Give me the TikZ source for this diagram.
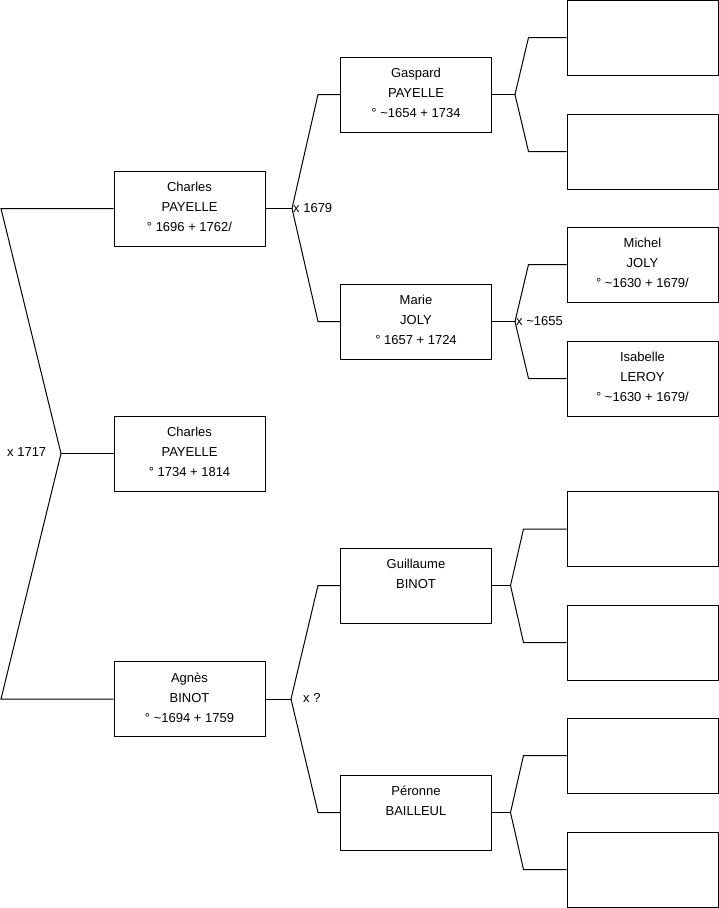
\documentclass[tikz,border=0pt]{standalone}
\usepackage{fontspec}
\setmainfont{Liberation Sans}
\newcommand{\persontext}[1]{\parbox[c][75pt][t]{151pt}{\centering\rule{0pt}{20.6pt}#1}}
\begin{document}
\begin{tikzpicture}[x=1pt,y=-1pt,
  pbox/.style={draw=black, line width=1pt, inner sep=0pt, minimum width=151pt, minimum height=75pt, font=\fontsize{13}{20}\selectfont},
  conn/.style={draw=black, line width=1pt},
  marr/.style={font=\fontsize{13}{15}\selectfont, inner sep=1pt, anchor=west}]
\useasboundingbox (0,0) rectangle (719,908);
% generation 0 and 1
\node[pbox] (g0) at (189.5,453.5) {\persontext{Charles\\PAYELLE\\° 1734 + 1814}};
\node[pbox] (g1a) at (189.5,208.5) {\persontext{Charles\\PAYELLE\\° 1696 + 1762/}};
\node[pbox] (g1b) at (189.5,699) {\persontext{Agnès\\BINOT\\° \textasciitilde1694 + 1759}};
% generation 2
\node[pbox] (g2a) at (416,94.5) {\persontext{Gaspard\\PAYELLE\\° \textasciitilde1654 + 1734}};
\node[pbox] (g2b) at (416,321.5) {\persontext{Marie\\JOLY\\° 1657 + 1724}};
\node[pbox] (g2c) at (416,585.5) {\persontext{Guillaume\\BINOT}};
\node[pbox] (g2d) at (416,812.5) {\persontext{Péronne\\BAILLEUL}};
% generation 3
\node[pbox] (r1) at (642.5,37.5) {\persontext{}};
\node[pbox] (r2) at (642.5,151.5) {\persontext{}};
\node[pbox] (r3) at (642.5,264.5) {\persontext{Michel\\JOLY\\° \textasciitilde1630 + 1679/}};
\node[pbox] (r4) at (642.5,378.5) {\persontext{Isabelle\\LEROY\\° \textasciitilde1630 + 1679/}};
\node[pbox] (r5) at (642.5,529) {\persontext{}};
\node[pbox] (r6) at (642.5,642.5) {\persontext{}};
\node[pbox] (r7) at (642.5,755.5) {\persontext{}};
\node[pbox] (r8) at (642.5,869.5) {\persontext{}};
% forks
\coordinate (F0) at (61,453.5);
\coordinate (F0a) at (1,208.5);
\coordinate (F0b) at (1,699);
\coordinate (F1) at (292,208.5);
\coordinate (F2) at (291,699);
\coordinate (F3) at (515,94.5);
\coordinate (F4) at (515,321.5);
\coordinate (F5) at (510.5,585.5);
\coordinate (F6) at (510.5,812.5);
% connectors
\draw[conn] (g0.west) -- (F0);
\draw[conn] (F0) -- (F0a) -- (g1a.west);
\draw[conn] (F0) -- (F0b) -- (g1b.west);
\draw[conn] (g1a.east) -- (F1);
\draw[conn] (F1) -- ([xshift=-22pt]g2a.west) -- (g2a.west);
\draw[conn] (F1) -- ([xshift=-22pt]g2b.west) -- (g2b.west);
\draw[conn] (g1b.east) -- (F2);
\draw[conn] (F2) -- ([xshift=-22pt]g2c.west) -- (g2c.west);
\draw[conn] (F2) -- ([xshift=-22pt]g2d.west) -- (g2d.west);
\draw[conn] (g2a.east) -- (F3);
\draw[conn] (F3) -- ([xshift=-38pt]r1.west) -- (r1.west);
\draw[conn] (F3) -- ([xshift=-38pt]r2.west) -- (r2.west);
\draw[conn] (g2b.east) -- (F4);
\draw[conn] (F4) -- ([xshift=-38pt]r3.west) -- (r3.west);
\draw[conn] (F4) -- ([xshift=-38pt]r4.west) -- (r4.west);
\draw[conn] (g2c.east) -- (F5);
\draw[conn] (F5) -- ([xshift=-43pt]r5.west) -- (r5.west);
\draw[conn] (F5) -- ([xshift=-43pt]r6.west) -- (r6.west);
\draw[conn] (g2d.east) -- (F6);
\draw[conn] (F6) -- ([xshift=-43pt]r7.west) -- (r7.west);
\draw[conn] (F6) -- ([xshift=-43pt]r8.west) -- (r8.west);
% marriage labels
\node[marr] (m0) at (6,452.5) {x 1717};
\node[marr] (m1) at (292,208) {x 1679};
\node[marr] (m2) at (515,321) {x \textasciitilde1655};
\node[marr] (m3) at (302,698) {x ?};
\end{tikzpicture}
\end{document}
